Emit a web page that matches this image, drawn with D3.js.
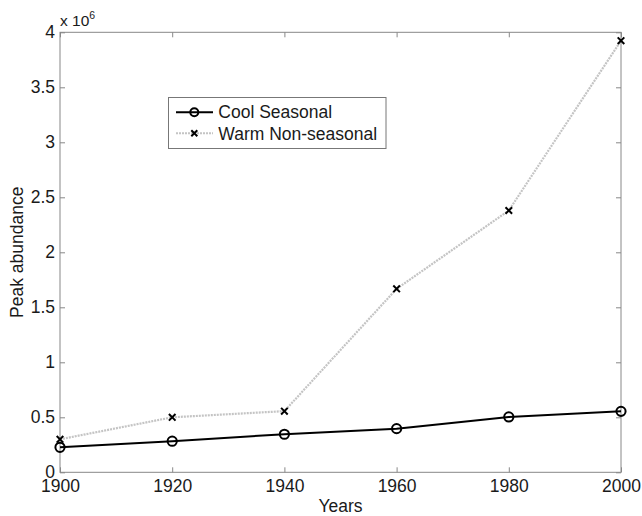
<!DOCTYPE html>
<html><head><meta charset="utf-8">
<script src="https://cdn.jsdelivr.net/npm/d3@7"></script>
<style>body{margin:0;background:#fff;} text{font-family:"Liberation Sans",Arial,sans-serif;}</style>
</head><body>
<svg id="c" width="642" height="516"></svg>
<script>
const years = [1900, 1920, 1940, 1960, 1980, 2000];
const coolSeasonal = [0.227e6, 0.283e6, 0.346e6, 0.397e6, 0.503e6, 0.554e6];
const warmNonSeasonal = [0.30e6, 0.50e6, 0.556e6, 1.668e6, 2.38e6, 3.924e6];
const xTicks = [1900, 1920, 1940, 1960, 1980, 2000];
const yTicks = [0, 0.5e6, 1e6, 1.5e6, 2e6, 2.5e6, 3e6, 3.5e6, 4e6];
const yTickLabels = ["0", "0.5", "1", "1.5", "2", "2.5", "3", "3.5", "4"];
const seriesNames = ["Cool Seasonal", "Warm Non-seasonal"];

const svg = d3.select("#c");
const L = 60, R = 621, T = 32.3, B = 472.3;
const x = d3.scaleLinear().domain([1900, 2000]).range([L, R]);
const y = d3.scaleLinear().domain([0, 4e6]).range([B, T]);
const axisColor = "#888";
const fs = 17.5;
const textColor = "#1a1a1a";

svg.append("rect").attr("x", L).attr("y", T).attr("width", R - L).attr("height", B - T)
  .attr("fill", "none").attr("stroke", axisColor).attr("stroke-width", 1);

function styleAxis(g) {
  g.select(".domain").remove();
  g.selectAll(".tick line").attr("stroke", axisColor);
  g.selectAll(".tick text").attr("fill", textColor).style("font-size", fs + "px")
    .style("font-family", '"Liberation Sans",Arial,sans-serif');
}
const tk = 5;
svg.append("g").attr("transform", `translate(0,${B})`)
  .call(d3.axisBottom(x).tickValues(xTicks).tickFormat(d3.format("d")).tickSizeInner(-tk).tickPadding(7))
  .call(styleAxis);
svg.append("g").attr("transform", `translate(0,${T})`)
  .call(d3.axisTop(x).tickValues(xTicks).tickFormat("").tickSizeInner(-tk))
  .call(styleAxis);
svg.append("g").attr("transform", `translate(${L},0)`)
  .call(d3.axisLeft(y).tickValues(yTicks).tickFormat((d, i) => yTickLabels[i]).tickSizeInner(-tk).tickPadding(5))
  .call(styleAxis);
svg.append("g").attr("transform", `translate(${R},0)`)
  .call(d3.axisRight(y).tickValues(yTicks).tickFormat("").tickSizeInner(-tk))
  .call(styleAxis);

const ex = svg.append("text").attr("x", L).attr("y", 26).attr("fill", textColor).style("font-size", "15.5px");
ex.append("tspan").text("x 10");
ex.append("tspan").attr("dy", -7).style("font-size", "10.5px").text("6");

svg.append("text").attr("x", (L + R) / 2).attr("y", 512).attr("text-anchor", "middle")
  .attr("fill", textColor).style("font-size", fs + "px").text("Years");
svg.append("text").attr("transform", `translate(23,${(T + B) / 2}) rotate(-90)`).attr("text-anchor", "middle")
  .attr("fill", textColor).style("font-size", fs + "px").text("Peak abundance");

const line = d3.line().x(d => x(d[0])).y(d => y(d[1]));
const warmData = years.map((yr, i) => [yr, warmNonSeasonal[i]]);
const coolData = years.map((yr, i) => [yr, coolSeasonal[i]]);

function drawX(g, cx, cy, s) {
  g.append("path").attr("d", `M${cx - s},${cy - s}L${cx + s},${cy + s}M${cx - s},${cy + s}L${cx + s},${cy - s}`)
    .attr("stroke", "#000").attr("stroke-width", 2).attr("fill", "none");
}

svg.append("path").datum(warmData).attr("d", line).attr("fill", "none")
  .attr("stroke", "#c4c4c4").attr("stroke-width", 2.2).attr("stroke-dasharray", "2,1");
const wg = svg.append("g");
warmData.forEach(d => drawX(wg, x(d[0]), y(d[1]), 3.3));

svg.append("path").datum(coolData).attr("d", line).attr("fill", "none")
  .attr("stroke", "#000").attr("stroke-width", 2);
svg.append("g").selectAll("circle").data(coolData).join("circle")
  .attr("cx", d => x(d[0])).attr("cy", d => y(d[1])).attr("r", 4.6)
  .attr("fill", "none").attr("stroke", "#000").attr("stroke-width", 2);

const lg = svg.append("g");
lg.append("rect").attr("x", 168.5).attr("y", 97.5).attr("width", 217.5).attr("height", 51)
  .attr("fill", "#fff").attr("stroke", "#777").attr("stroke-width", 1);
const ly1 = 112.3, ly2 = 133.3;
lg.append("line").attr("x1", 176).attr("x2", 213).attr("y1", ly1).attr("y2", ly1).attr("stroke", "#000").attr("stroke-width", 2);
lg.append("circle").attr("cx", 194.3).attr("cy", ly1).attr("r", 4).attr("fill", "none").attr("stroke", "#000").attr("stroke-width", 2);
lg.append("line").attr("x1", 176).attr("x2", 213).attr("y1", ly2).attr("y2", ly2).attr("stroke", "#c4c4c4").attr("stroke-width", 2).attr("stroke-dasharray", "2,1");
drawX(lg, 194.3, ly2, 3);
lg.append("text").attr("x", 218.3).attr("y", 117.5).attr("fill", textColor).style("font-size", fs + "px").text(seriesNames[0]);
lg.append("text").attr("x", 218.3).attr("y", 139.5).attr("fill", textColor).style("font-size", fs + "px").text(seriesNames[1]);
</script>
</body></html>
